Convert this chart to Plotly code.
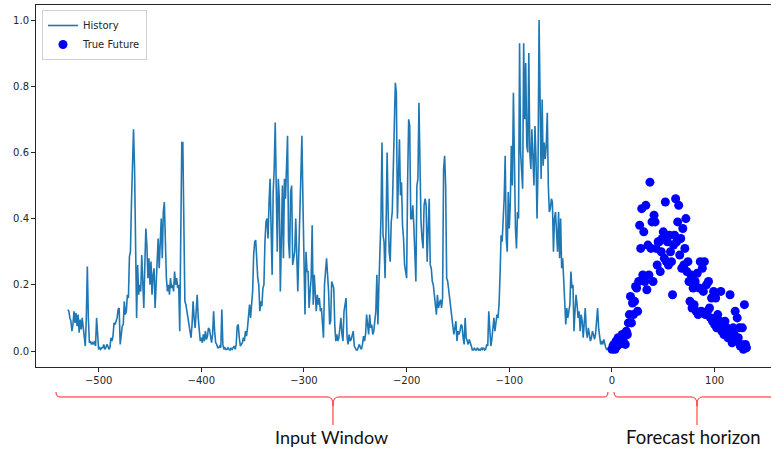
import plotly.graph_objects as go

# ---------------- data ----------------
history_values = [
    0.125, 0.12, 0.10, 0.09, 0.06, 0.08, 0.12, 0.085, 0.115, 0.075,
    0.11, 0.055, 0.095, 0.065, 0.10, 0.075, 0.045, 0.015, 0.10, 0.255,
    0.10, 0.025, 0.03, 0.02, 0.025, 0.02, 0.03, 0.015, 0.10, 0.04,
    0.005, 0.01, 0.005, 0.01, 0.01, 0.02, 0.005, 0.01, 0.02, 0.015,
    0.005, 0.01, 0.04, 0.03, 0.045, 0.085, 0.08, 0.09, 0.10, 0.125,
    0.13, 0.02, 0.06, 0.075, 0.08, 0.15, 0.11, 0.12, 0.17, 0.16,
    0.285, 0.30, 0.45, 0.60, 0.67, 0.55, 0.30, 0.10, 0.26, 0.17,
    0.20, 0.18, 0.29, 0.22, 0.13, 0.26, 0.37, 0.32, 0.22, 0.28,
    0.20, 0.27, 0.17, 0.23, 0.25, 0.13, 0.22, 0.30, 0.34, 0.25,
    0.32, 0.40, 0.28, 0.42, 0.45, 0.30, 0.22, 0.18, 0.20, 0.17,
    0.22, 0.19, 0.20, 0.18, 0.24, 0.20, 0.22, 0.19, 0.20, 0.06,
    0.30, 0.63, 0.63, 0.45, 0.15, 0.14, 0.12, 0.10, 0.09, 0.06,
    0.04, 0.08, 0.15, 0.10, 0.07, 0.12, 0.17, 0.10, 0.05, 0.03,
    0.04, 0.025, 0.05, 0.03, 0.06, 0.035, 0.045, 0.07, 0.065, 0.05,
    0.025, 0.05, 0.12, 0.06, 0.025, 0.02, 0.01, 0.01, 0.015, 0.01,
    0.125, 0.02, 0.005, 0.01, 0.005, 0.005, 0.01, 0.005, 0.003, 0.008,
    0.005, 0.01, 0.015, 0.005, 0.02, 0.075, 0.08, 0.04, 0.015, 0.02,
    0.025, 0.04, 0.03, 0.06, 0.045, 0.07, 0.11, 0.14, 0.10, 0.13,
    0.18, 0.29, 0.33, 0.335, 0.26, 0.22, 0.20, 0.12, 0.15, 0.135,
    0.19, 0.20, 0.33, 0.39, 0.40, 0.34, 0.45, 0.52, 0.37, 0.23,
    0.48, 0.55, 0.69, 0.45, 0.30, 0.52, 0.46, 0.18, 0.31, 0.50,
    0.28, 0.52, 0.46, 0.60, 0.65, 0.33, 0.28, 0.48, 0.50, 0.26,
    0.28, 0.30, 0.40, 0.24, 0.18, 0.30, 0.42, 0.55, 0.65, 0.45,
    0.20, 0.11, 0.30, 0.24, 0.24, 0.13, 0.18, 0.22, 0.38, 0.14,
    0.23, 0.18, 0.12, 0.17, 0.14, 0.16, 0.12, 0.13, 0.07, 0.04,
    0.20, 0.25, 0.28, 0.23, 0.18, 0.08, 0.09, 0.21, 0.20, 0.19,
    0.08, 0.03, 0.05, 0.03, 0.04, 0.07, 0.10, 0.05, 0.03, 0.12,
    0.14, 0.16, 0.04, 0.02, 0.05, 0.03, 0.035, 0.05, 0.06, 0.015,
    0.01, 0.003, 0.003, 0.01, 0.02, 0.01, 0.005, 0.02, 0.045, 0.03,
    0.05, 0.11, 0.07, 0.05, 0.11, 0.07, 0.08, 0.05, 0.06, 0.09,
    0.12, 0.23, 0.08, 0.20, 0.31, 0.40, 0.63, 0.35, 0.33, 0.22,
    0.38, 0.60, 0.42, 0.30, 0.27, 0.39, 0.42, 0.55, 0.72, 0.81,
    0.78, 0.40, 0.52, 0.64, 0.47, 0.51, 0.38, 0.34, 0.26, 0.24,
    0.22, 0.52, 0.70, 0.68, 0.40, 0.40, 0.44, 0.38, 0.30, 0.21,
    0.50, 0.52, 0.75, 0.55, 0.39, 0.34, 0.31, 0.44, 0.46, 0.44,
    0.27, 0.37, 0.46, 0.26, 0.25, 0.21, 0.20, 0.17, 0.14, 0.11,
    0.17, 0.13, 0.145, 0.155, 0.13, 0.16, 0.55, 0.59, 0.50, 0.22,
    0.21, 0.18, 0.16, 0.12, 0.11, 0.06, 0.05, 0.07, 0.09, 0.03,
    0.06, 0.05, 0.06, 0.08, 0.075, 0.04, 0.02, 0.10, 0.04, 0.03,
    0.02, 0.035, 0.02, 0.015, 0.003, 0.003, 0.01, 0.003, 0.003, 0.01,
    0.003, 0.005, 0.003, 0.01, 0.005, 0.01, 0.003, 0.005, 0.02, 0.015,
    0.12, 0.05, 0.015, 0.035, 0.06, 0.10, 0.06, 0.08, 0.11, 0.10,
    0.14, 0.23, 0.35, 0.33, 0.39, 0.46, 0.59, 0.34, 0.30, 0.48,
    0.37, 0.45, 0.62, 0.50, 0.78, 0.50, 0.37, 0.31, 0.42, 0.40,
    0.93, 0.60, 0.55, 0.49, 0.93, 0.70, 0.87, 0.62, 0.60, 0.90,
    0.60, 0.55, 0.67, 0.55, 0.50, 0.68, 0.58, 0.40, 0.56, 1.0,
    0.65, 0.52, 0.76, 0.56, 0.63, 0.58, 0.62, 0.72, 0.50, 0.42,
    0.43, 0.46, 0.45, 0.30, 0.40, 0.42, 0.36, 0.30, 0.42, 0.28,
    0.40, 0.25, 0.28, 0.20, 0.15, 0.08, 0.13, 0.10, 0.12, 0.14,
    0.24, 0.19, 0.20, 0.06, 0.12, 0.17, 0.14, 0.10, 0.12, 0.06,
    0.11, 0.09, 0.04, 0.09, 0.13, 0.06, 0.04, 0.07, 0.04, 0.03,
    0.04, 0.06, 0.05, 0.035, 0.05, 0.09, 0.13, 0.07, 0.04, 0.02,
    0.03, 0.02, 0.035, 0.02, 0.01, 0.003, 0.01, 0.005, 0.003, 0.01,
]
history_steps = list(range(-len(history_values), 0))

future_values = [
    0.005, 0.015, 0.02, 0.005, 0.03, 0.015, 0.04, 0.02, 0.035, 0.025,
    0.05, 0.03, 0.045, 0.02, 0.06, 0.05, 0.085, 0.11, 0.165, 0.085,
    0.145, 0.11, 0.15, 0.195, 0.19, 0.12, 0.21, 0.38, 0.31, 0.43,
    0.23, 0.36, 0.21, 0.44, 0.185, 0.32, 0.23, 0.51, 0.31, 0.39,
    0.21, 0.41, 0.39, 0.31, 0.26, 0.33, 0.33, 0.24, 0.30, 0.34,
    0.36, 0.28, 0.45, 0.27, 0.33, 0.26, 0.35, 0.30, 0.27, 0.17,
    0.32, 0.35, 0.46, 0.33, 0.39, 0.44, 0.29, 0.34, 0.25, 0.37,
    0.26, 0.31, 0.40, 0.24, 0.27, 0.21, 0.15, 0.23, 0.13, 0.19,
    0.14, 0.21, 0.12, 0.235, 0.11, 0.19, 0.27, 0.12, 0.25, 0.18,
    0.27, 0.11, 0.20, 0.12, 0.21, 0.13, 0.10, 0.16, 0.09, 0.18,
    0.08, 0.16, 0.07, 0.11, 0.08, 0.09, 0.18, 0.06, 0.07, 0.05,
    0.09, 0.06, 0.07, 0.04, 0.05, 0.17, 0.06, 0.025, 0.07, 0.05,
    0.12, 0.03, 0.10, 0.04, 0.07, 0.015, 0.02, 0.07, 0.005, 0.14,
    0.02, 0.01,
]
future_steps = list(range(len(future_values)))

x_tick_vals = [-500, -400, -300, -200, -100, 0, 100]
x_tick_labels = ["\u2212500", "\u2212400", "\u2212300", "\u2212200", "\u2212100", "0", "100"]
y_tick_vals = [0.0, 0.2, 0.4, 0.6, 0.8, 1.0]
y_tick_labels = ["0.0", "0.2", "0.4", "0.6", "0.8", "1.0"]

window_labels = ["Input Window", "Forecast horizon"]

# ---------------- layout geometry (pixels) ----------------
W, H = 771, 450
L, R, T, B = 36, 771, 5, 367


def pp(px, py):
    return (px - L) / (R - L), (B - py) / (B - T)


def brace_path(xa, xb, xm, y_line=397, y_end=392, y_tip=425):
    def P(px, py):
        x, y = pp(px, py)
        return f"{x:.5f},{y:.5f}"

    d = (f"M {P(xa, y_end)} Q {P(xa, y_line)} {P(xa + 4, y_line)} "
         f"L {P(xm - 6, y_line)} C {P(xm - 2, y_line)} {P(xm, y_line + 2)} {P(xm, y_line + 9)} "
         f"L {P(xm, y_tip)} M {P(xm, y_line + 9)} "
         f"C {P(xm, y_line + 2)} {P(xm + 2, y_line)} {P(xm + 6, y_line)} "
         f"L {P(xb - 4, y_line)} Q {P(xb, y_line)} {P(xb, y_end)}")
    return d


fig = go.Figure()
fig.add_trace(go.Scatter(
    x=history_steps, y=history_values, mode="lines", name="History",
    line=dict(color="#1f77b4", width=1.6),
))
fig.add_trace(go.Scatter(
    x=future_steps, y=future_values, mode="markers", name="True Future",
    marker=dict(color="#0000ff", size=9, line=dict(width=0)),
))

axis_common = dict(
    showgrid=False, zeroline=False, showline=True, linecolor="#262626", linewidth=1,
    ticks="outside", ticklen=4, tickwidth=1, tickcolor="#262626",
    tickfont=dict(family="DejaVu Sans", size=10, color="#262626"),
    automargin=False,
)

fig.update_layout(
    width=W, height=H,
    margin=dict(l=L, r=W - R, t=T, b=H - B, pad=0, autoexpand=False),
    paper_bgcolor="white", plot_bgcolor="white",
    xaxis=dict(range=[-561, 154.9], tickvals=x_tick_vals, ticktext=x_tick_labels,
               mirror=True, **axis_common),
    yaxis=dict(range=[-0.0483, 1.0453], tickvals=y_tick_vals, ticktext=y_tick_labels,
               mirror=False, **axis_common),
    showlegend=True,
    legend=dict(x=pp(42, 0)[0], y=pp(0, 10)[1], xanchor="left", yanchor="top",
                bgcolor="white", bordercolor="#d0d0d0", borderwidth=1,
                font=dict(family="DejaVu Sans", size=10, color="#262626"),
                itemwidth=30, tracegroupgap=0),
)

fig.add_shape(type="path", xref="paper", yref="paper",
              path=brace_path(56, 608, 333), line=dict(color="#ff2020", width=1))
fig.add_shape(type="path", xref="paper", yref="paper",
              path=brace_path(614, 800, 697), line=dict(color="#ff2020", width=1))

for text, cx, fs in zip(window_labels, [331, 693], [18, 18.5]):
    x, y = pp(cx, 437)
    fig.add_annotation(x=x, y=y, xref="paper", yref="paper", text=text, showarrow=False,
                       xanchor="center", yanchor="middle",
                       font=dict(family="Lato", size=fs, color="#111111"))

fig.write_html("out.html", config={"displayModeBar": False},
               post_script="document.body.style.margin='0';")
